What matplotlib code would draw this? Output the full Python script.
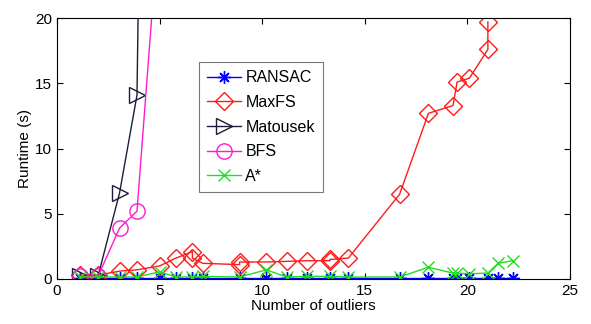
import matplotlib
matplotlib.use("Agg")
import matplotlib.pyplot as plt

plt.rcParams['font.family'] = ['Liberation Sans', 'DejaVu Sans']

# x positions (number of outliers) and runtimes
x_ransac = [1.1, 2.0, 3.05, 3.9, 5.0, 5.8, 6.6, 7.1, 8.9, 10.2, 11.2, 12.2, 13.3, 14.2,
            16.7, 18.1, 19.3, 19.5, 20.1, 21.0, 21.5, 22.2]
y_ransac = [0.05, 0.05, 0.05, 0.05, 0.05, 0.05, 0.05, 0.05, 0.05, 0.05, 0.05, 0.05, 0.05, 0.05,
            0.05, 0.05, 0.05, 0.05, 0.05, 0.05, 0.05, 0.05]

x_maxfs = [1.1, 2.0, 3.05, 3.9, 5.0, 5.8, 6.6, 6.6, 7.1, 8.9, 8.9, 10.2, 11.2, 12.2, 13.3, 13.3,
           14.2, 16.7, 18.1, 19.3, 19.5, 20.1, 21.0, 21.0]
y_maxfs = [0.3, 0.3, 0.6, 0.7, 1.0, 1.6, 2.1, 1.6, 1.2, 1.1, 1.3, 1.3, 1.35, 1.4, 1.4, 1.5,
           1.6, 6.5, 12.7, 13.3, 15.1, 15.4, 17.6, 19.7]

x_matousek = [1.1, 2.0, 3.05, 3.9, 5.0]
y_matousek = [0.2, 0.2, 6.6, 14.1, 140.0]

x_bfs = [1.1, 2.0, 3.05, 3.9, 5.0]
y_bfs = [0.2, 0.2, 3.9, 5.2, 28.0]

x_astar = x_ransac
y_astar = [0.15, 0.15, 0.15, 0.15, 0.55, 0.15, 0.15, 0.2, 0.15, 0.7, 0.15, 0.2, 0.2, 0.15,
           0.15, 0.9, 0.45, 0.45, 0.4, 0.45, 1.2, 1.4]

fig = plt.figure(figsize=(5.91, 3.24), dpi=100)
ax = fig.add_axes([0.0964, 0.139, 0.868, 0.805])

ax.plot(x_ransac, y_ransac, color='#0000ff', marker=(8, 2, 0), markersize=9, mew=1, lw=1, label='RANSAC')
ax.plot(x_maxfs, y_maxfs, color='#ff1a1a', marker='D', markersize=9, mfc='none', lw=1, label='MaxFS')
ax.plot(x_matousek, y_matousek, color='#1c1c3c', marker='>', markersize=11, mfc='none', lw=1, label='Matousek')
ax.plot(x_bfs, y_bfs, color='#ff19d0', marker='o', markersize=11, mfc='none', lw=1, label='BFS')
ax.plot(x_astar, y_astar, color='#22dd22', marker='x', markersize=8, lw=1, label='A*')

ax.set_xlim(0, 25)
ax.set_ylim(0, 20)
ax.set_xticks([0, 5, 10, 15, 20, 25])
ax.set_yticks([0, 5, 10, 15, 20])
ax.tick_params(direction='in', top=True, right=True, labelsize=11, length=4)
ax.set_xlabel('Number of outliers', fontsize=11, labelpad=1)
ax.set_ylabel('Runtime (s)', fontsize=11, labelpad=2)

leg = ax.legend(loc='upper left', bbox_to_anchor=(0.277, 0.83), fontsize=11.5,
                frameon=True, fancybox=False, edgecolor='#555555', handlelength=2.1,
                borderpad=0.5, labelspacing=0.6, handletextpad=0.3, borderaxespad=0)
leg.get_frame().set_linewidth(0.8)

fig.savefig('out.png', dpi=100)
